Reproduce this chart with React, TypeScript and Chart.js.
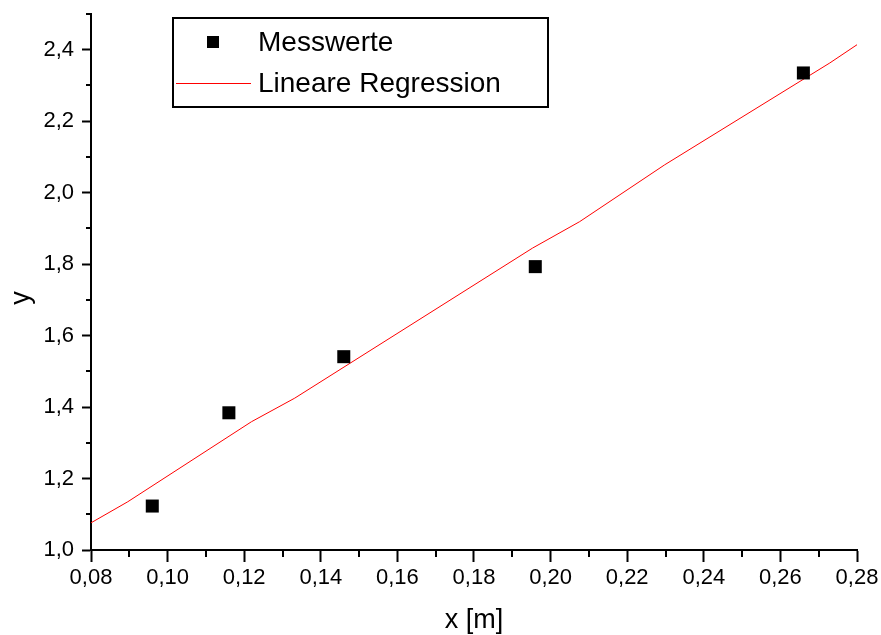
import React, { useEffect, useRef } from 'react';
import { Chart, registerables } from 'chart.js';

Chart.register(...registerables);

const measuredX = [0.096, 0.116, 0.146, 0.196, 0.266];
const measuredY = [1.123, 1.384, 1.541, 1.793, 2.335];
const regressionX = [0.08, 0.0896, 0.1219, 0.1332, 0.1953, 0.2076, 0.2298, 0.2729, 0.28];
const regressionY = [1.076, 1.135, 1.359, 1.425, 1.845, 1.919, 2.078, 2.363, 2.414];
const xMajorTicks = [0.08, 0.1, 0.12, 0.14, 0.16, 0.18, 0.2, 0.22, 0.24, 0.26, 0.28];
const xMinorTicks = [0.09, 0.11, 0.13, 0.15, 0.17, 0.19, 0.21, 0.23, 0.25, 0.27];
const yMajorTicks = [1.0, 1.2, 1.4, 1.6, 1.8, 2.0, 2.2, 2.4];
const yMinorTicks = [1.1, 1.3, 1.5, 1.7, 1.9, 2.1, 2.3, 2.5];
const legendLabels = ['Messwerte', 'Lineare Regression'];
const xTitle = 'x [m]';
const yTitle = 'y';

const FONT = '"Liberation Sans", Arial, sans-serif';

const extrasPlugin = {
  id: 'extras',
  afterDraw(chart: any) {
    const ctx = chart.ctx as CanvasRenderingContext2D;
    const xs = chart.scales.x;
    const ys = chart.scales.y;
    const area = chart.chartArea;
    ctx.save();
    // minor ticks
    ctx.strokeStyle = '#000';
    ctx.lineWidth = 2;
    ctx.beginPath();
    xMinorTicks.forEach((v) => {
      const px = Math.round(xs.getPixelForValue(v));
      ctx.moveTo(px, area.bottom);
      ctx.lineTo(px, area.bottom + 7);
    });
    yMinorTicks.forEach((v) => {
      const py = Math.round(ys.getPixelForValue(v));
      ctx.moveTo(area.left - 5, py);
      ctx.lineTo(area.left, py);
    });
    ctx.stroke();

    // legend
    ctx.lineWidth = 2;
    ctx.strokeStyle = '#000';
    ctx.strokeRect(173, 18, 375, 89);
    ctx.fillStyle = '#000';
    ctx.fillRect(207, 36, 12, 12);
    ctx.strokeStyle = '#ff0000';
    ctx.lineWidth = 1;
    ctx.beginPath();
    ctx.moveTo(176, 83.5);
    ctx.lineTo(251, 83.5);
    ctx.stroke();
    ctx.fillStyle = '#000';
    ctx.font = `28px ${FONT}`;
    ctx.textBaseline = 'middle';
    ctx.textAlign = 'left';
    ctx.fillText(legendLabels[0], 258, 43);
    ctx.fillText(legendLabels[1], 258, 84);

    // y axis title
    ctx.save();
    ctx.translate(22, 298);
    ctx.rotate(-Math.PI / 2);
    ctx.font = `27px ${FONT}`;
    ctx.textAlign = 'center';
    ctx.textBaseline = 'middle';
    ctx.fillText(yTitle, 0, 0);
    ctx.restore();
    ctx.restore();
  },
};

export default function App() {
  const ref = useRef<HTMLCanvasElement | null>(null);
  useEffect(() => {
    document.body.style.margin = '0';
    const canvas = ref.current;
    if (!canvas) return;
    const chart = new Chart(canvas, {
      type: 'scatter',
      data: {
        datasets: [
          {
            label: legendLabels[0],
            data: measuredX.map((x, i) => ({ x, y: measuredY[i] })),
            pointStyle: 'rect',
            pointRadius: 9.2,
            pointBackgroundColor: '#000',
            pointBorderWidth: 0,
            showLine: false,
          },
          {
            label: legendLabels[1],
            data: regressionX.map((x, i) => ({ x, y: regressionY[i] })),
            showLine: true,
            borderColor: '#ff0000',
            borderWidth: 1,
            pointRadius: 0,
            tension: 0,
          },
        ],
      },
      options: {
        animation: false,
        responsive: true,
        maintainAspectRatio: false,
        layout: { padding: { left: 0, top: 14, right: 24, bottom: 0 } },
        plugins: { legend: { display: false }, tooltip: { enabled: false } },
        scales: {
          x: {
            type: 'linear',
            min: 0.08,
            max: 0.28,
            afterBuildTicks: (s: any) => {
              s.ticks = xMajorTicks.map((v) => ({ value: v }));
            },
            afterFit: (s: any) => {
              s.height = 85;
              s.paddingLeft = 0;
              s.paddingRight = 0;
            },
            border: { display: true, color: '#000', width: 2 },
            grid: {
              drawOnChartArea: false,
              drawTicks: true,
              tickLength: 12,
              tickWidth: 2,
              tickColor: '#000',
              color: '#000',
            },
            ticks: {
              color: '#000',
              padding: 3,
              maxRotation: 0,
              autoSkip: false,
              font: { family: FONT, size: 22 },
              callback: (v: any) => Number(v).toFixed(2).replace('.', ','),
            },
            title: {
              display: true,
              text: xTitle,
              color: '#000',
              font: { family: FONT, size: 27 },
              padding: { top: 0, bottom: -2 },
            },
          },
          y: {
            type: 'linear',
            min: 1.0,
            max: 2.5,
            afterBuildTicks: (s: any) => {
              s.ticks = yMajorTicks.map((v) => ({ value: v }));
            },
            afterFit: (s: any) => {
              s.width = 91;
              s.paddingTop = 0;
              s.paddingBottom = 0;
            },
            border: { display: true, color: '#000', width: 2 },
            grid: {
              drawOnChartArea: false,
              drawTicks: true,
              tickLength: 9,
              tickWidth: 2,
              tickColor: '#000',
              color: '#000',
            },
            ticks: {
              color: '#000',
              padding: 8,
              autoSkip: false,
              font: { family: FONT, size: 22 },
              callback: (v: any) => Number(v).toFixed(1).replace('.', ','),
            },
            title: { display: false },
          },
        },
      },
      plugins: [extrasPlugin],
    });
    return () => chart.destroy();
  }, []);
  return (
    <div style={{ position: 'fixed', left: 0, top: 0, width: 881, height: 635, background: '#fff' }}>
      <canvas ref={ref} />
    </div>
  );
}
